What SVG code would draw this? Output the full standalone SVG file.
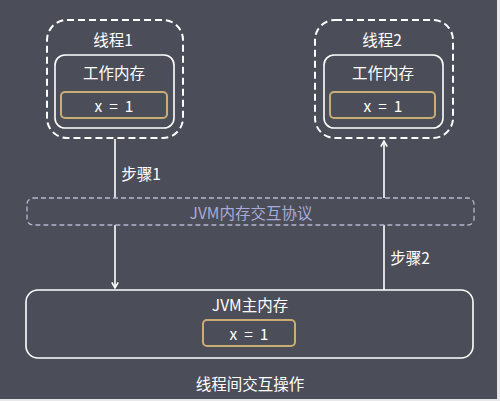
<svg xmlns="http://www.w3.org/2000/svg" width="500" height="401" viewBox="0 0 500 401">
<defs>
<style>
text{font-family:"Noto Sans CJK SC","Liberation Sans",sans-serif;fill:#ffffff;text-anchor:middle;dominant-baseline:central}
.t{font-size:15.5px}
.thread{fill:none;stroke:#ffffff;stroke-width:2;stroke-dasharray:7 4}
.mem{fill:none;stroke:#ffffff;stroke-width:1.6}
.var{fill:#4b4d58;stroke:#c9ad74;stroke-width:2}
.conn{stroke:#ffffff;stroke-width:1.6;fill:none}
</style>
<marker id="ah" viewBox="0 0 10 10" refX="8" refY="5" markerWidth="5" markerHeight="5" orient="auto-start-reverse">
<path d="M1,1 L8,5 L1,9" fill="none" stroke="#ffffff" stroke-width="2"/>
</marker>
</defs>
<rect x="0" y="0" width="500" height="401" fill="#e8e8ea"/>
<rect x="0" y="0" width="497" height="399" fill="#4b4d58"/>

<g id="connectors">
<line class="conn" x1="115" y1="139" x2="115" y2="288" marker-end="url(#ah)"/>
<line class="conn" x1="384" y1="290" x2="384" y2="141" marker-end="url(#ah)"/>
<text class="t" x="141" y="173">步骤1</text>
<text class="t" x="410" y="257">步骤2</text>
</g>

<g id="protocol">
<rect x="27" y="198" width="447" height="27" rx="6" fill="#4b4d58" stroke="#b4b6d2" stroke-width="1.3" stroke-dasharray="5 3"/>
<text class="t" x="251" y="212" style="fill:#a8acd8">JVM内存交互协议</text>
</g>

<g id="thread1">
<rect class="thread" x="47" y="20" width="136" height="118" rx="20"/>
<text class="t" x="113" y="39">线程1</text>
<rect class="mem" x="55" y="55" width="119" height="73" rx="10"/>
<text class="t" x="114" y="72">工作内存</text>
<rect class="var" x="61" y="92" width="106" height="26" rx="4"/>
<text class="t" x="114" y="105" xml:space="preserve">x  =  1</text>
</g>

<g id="thread2">
<rect class="thread" x="315" y="20" width="138" height="118" rx="20"/>
<text class="t" x="382" y="39">线程2</text>
<rect class="mem" x="324" y="55" width="119" height="73" rx="10"/>
<text class="t" x="383" y="72">工作内存</text>
<rect class="var" x="330" y="92" width="105" height="26" rx="4"/>
<text class="t" x="383" y="105" xml:space="preserve">x  =  1</text>
</g>

<g id="mainmem">
<rect class="mem" x="26" y="290" width="447" height="68" rx="12" fill="#4b4d58"/>
<text class="t" x="250" y="304">JVM主内存</text>
<rect class="var" x="203" y="320" width="92" height="26" rx="4"/>
<text class="t" x="249" y="333" xml:space="preserve">x  =  1</text>
</g>

<text class="t" x="250" y="383">线程间交互操作</text>
</svg>
